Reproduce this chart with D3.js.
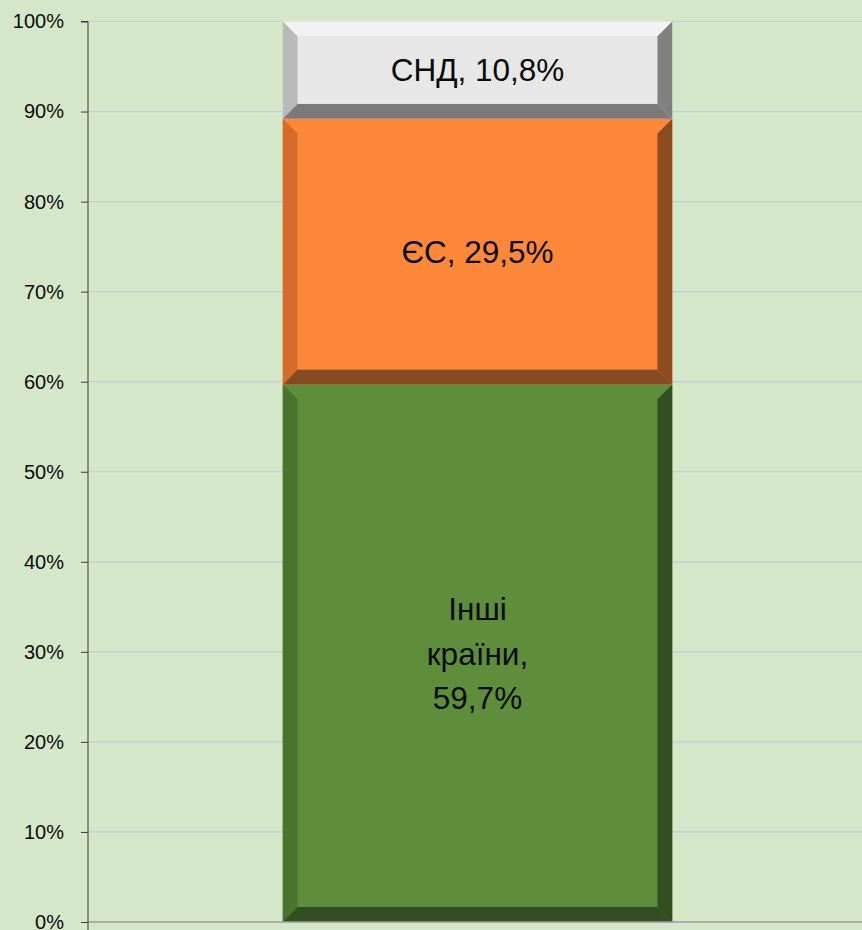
<!DOCTYPE html>
<html>
<head>
<meta charset="utf-8">
<script src="https://d3js.org/d3.v7.min.js"></script>
<style>
  html, body { margin: 0; padding: 0; background: #d4e8c9; }
  svg { display: block; font-family: "Liberation Sans", Arial, sans-serif; }
</style>
</head>
<body>
<svg id="chart" width="862" height="930"></svg>
<script>
// data
const groups = ["Інші країни", "ЄС", "СНД"];
const shares = [59.7, 29.5, 10.8];
const labelLines = [["Інші", "країни,", "59,7%"], ["ЄС, 29,5%"], ["СНД, 10,8%"]];
const yTicks = [0, 10, 20, 30, 40, 50, 60, 70, 80, 90, 100];

// bevel colours per segment: face, top, left, right, bottom
const palette = [
  { face: "#5e8e3c", top: "#5e8e3c", left: "#4a7330", right: "#324e22", bottom: "#324e22" },
  { face: "#fd883a", top: "#fd883a", left: "#d46c2c", right: "#8c4c20", bottom: "#854b24" },
  { face: "#e7e7e7", top: "#f2f2f2", left: "#b9b9b9", right: "#808080", bottom: "#7a7a7a" },
];

const width = 862;
const height = 930;
const margin = { top: 21.5, right: 0, bottom: 8, left: 88 };
const bevel = 15;

const svg = d3.select("#chart");

const y = d3.scaleLinear().domain([0, 100]).range([height - margin.bottom, margin.top]);
const x = d3.scaleBand().domain(["all"]).range([margin.left, 867]).paddingInner(0).paddingOuter(0.5);

// gridlines
svg.append("g")
  .selectAll("line")
  .data(yTicks.filter((t) => t > 0))
  .join("line")
  .attr("x1", margin.left)
  .attr("x2", width)
  .attr("y1", (d) => y(d))
  .attr("y2", (d) => y(d))
  .attr("stroke", "#c4cdd6")
  .attr("stroke-width", 1.2);

// stacked segments
let acc = 0;
const segs = shares.map((v, i) => {
  const s = { i, y0: acc, y1: acc + v };
  acc += v;
  return s;
});

const bx0 = x("all");
const bx1 = x("all") + x.bandwidth();

const seg = svg.append("g")
  .selectAll("g")
  .data(segs)
  .join("g");

seg.each(function (d) {
  const g = d3.select(this);
  const c = palette[d.i];
  const top = y(d.y1);
  const bot = y(d.y0);
  const ix0 = bx0 + bevel, ix1 = bx1 - bevel;
  const iy0 = top + bevel, iy1 = bot - bevel;
  const poly = (pts, fill) =>
    g.append("polygon").attr("points", pts.map((p) => p.join(",")).join(" ")).attr("fill", fill);
  poly([[bx0, top], [bx1, top], [bx1, bot], [bx0, bot]], c.face);
  poly([[bx0, top], [bx1, top], [ix1, iy0], [ix0, iy0]], c.top);
  poly([[bx0, top], [ix0, iy0], [ix0, iy1], [bx0, bot]], c.left);
  poly([[bx1, top], [bx1, bot], [ix1, iy1], [ix1, iy0]], c.right);
  poly([[bx0, bot], [ix0, iy1], [ix1, iy1], [bx1, bot]], c.bottom);
  g.append("rect")
    .attr("x", ix0).attr("y", iy0)
    .attr("width", ix1 - ix0).attr("height", iy1 - iy0)
    .attr("fill", c.face);

  const lines = labelLines[d.i];
  const cy = (top + bot) / 2;
  const lh = 44.5;
  g.append("text")
    .attr("text-anchor", "middle")
    .attr("font-size", 31.5)
    .attr("fill", "#0a0a0a")
    .selectAll("tspan")
    .data(lines)
    .join("tspan")
    .attr("x", (bx0 + bx1) / 2)
    .attr("y", (l, k) => cy + (k - (lines.length - 1) / 2) * lh)
    .attr("dy", "0.36em")
    .text((l) => l);
});

// bottom axis line
svg.append("line")
  .attr("x1", margin.left).attr("x2", width)
  .attr("y1", y(0)).attr("y2", y(0))
  .attr("stroke", "#9b9b9b").attr("stroke-width", 1.5);

// y axis
const yAxis = svg.append("g")
  .attr("transform", `translate(${margin.left},0)`)
  .call(d3.axisLeft(y).tickValues(yTicks).tickSize(7).tickPadding(17).tickFormat((d) => d + "%"));
yAxis.select(".domain").attr("stroke", "#3a3a3a").attr("d", `M-7,${y(100)}H0V${height}`);
yAxis.selectAll(".tick line").attr("stroke", "#3a3a3a");
yAxis.selectAll(".tick text")
  .attr("font-family", "'Liberation Sans', Arial, sans-serif")
  .attr("font-size", 20)
  .attr("fill", "#0a0a0a");
</script>
</body>
</html>
